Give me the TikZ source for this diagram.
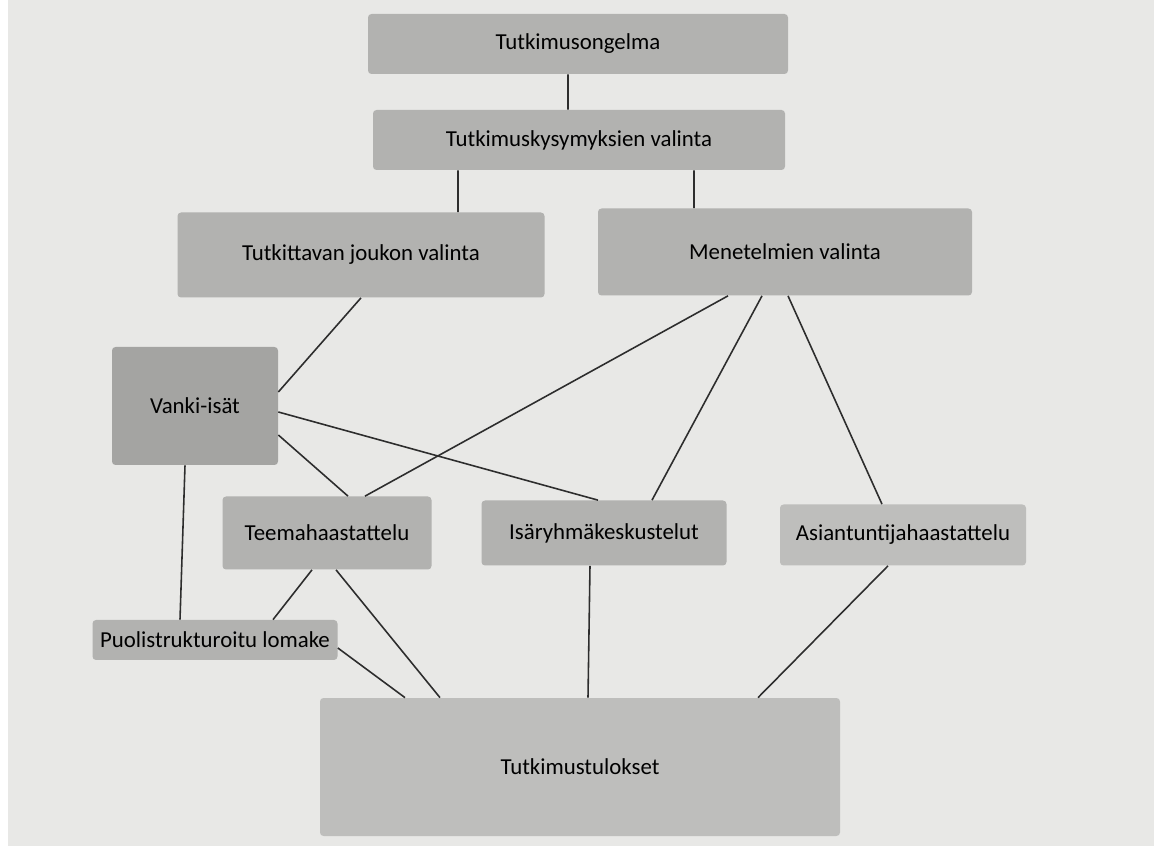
\documentclass[tikz,border=0pt]{standalone}
\usepackage{fontspec}
\setmainfont{Carlito}
\definecolor{paperi}{RGB}{232,232,230}
\definecolor{laatikko}{RGB}{178,178,176}
\definecolor{viiva}{RGB}{45,45,45}

\begin{document}
\begin{tikzpicture}[
  box/.style={draw=none,fill=laatikko,rounded corners=2pt,font=\fontsize{13}{15}\selectfont,inner sep=0pt},
  link/.style={draw=viiva,line width=0.9pt}
 ]
 \useasboundingbox (0,0) rectangle (23.08,17.02); %kuvan koko
 \fill[white] (0,0) rectangle (23.08,17.02); %reuna
 \fill[paperi] (0.16,0.1) rectangle (23.08,17.02); %paperi
 \node[box,minimum width=8.4cm,minimum height=1.2cm] (ongelma) at (11.56,16.14) {Tutkimusongelma}; %ylin
 \node[box,minimum width=8.24cm,minimum height=1.2cm] (kysymys) at (11.58,14.22) {Tutkimuskysymyksien valinta};
 \node[box,minimum width=7.34cm,minimum height=1.7cm] (joukko) at (7.22,11.92) {Tutkittavan joukon valinta};
 \node[box,minimum width=7.48cm,minimum height=1.74cm] (menetelmat) at (15.70,11.98) {Menetelmien valinta};
 \node[box,fill=laatikko!92!black,minimum width=3.32cm,minimum height=2.36cm] (vanki) at (3.90,8.90) {Vanki-isät};
 \node[box,minimum width=4.18cm,minimum height=1.46cm] (teema) at (6.54,6.36) {Teemahaastattelu};
 \node[box,minimum width=4.9cm,minimum height=1.3cm] (isa) at (12.08,6.36) {Isäryhmäkeskustelut};
 \node[box,fill=laatikko!85!white,minimum width=4.92cm,minimum height=1.22cm] (asiantuntija) at (18.06,6.32) {Asiantuntijahaastattelu};
 \node[box,minimum width=4.9cm,minimum height=0.8cm] (puoli) at (4.30,4.22) {Puolistrukturoitu lomake};
 \node[box,fill=laatikko!85!white,minimum width=10.4cm,minimum height=2.76cm] (tulokset) at (11.60,1.68) {Tutkimustulokset}; %alin
 \draw[link] ([xshift=-0.2cm]ongelma.south)--([xshift=-0.22cm]kysymys.north);
 \draw[link] ([xshift=-2.42cm]kysymys.south)--([xshift=1.94cm]joukko.north);
 \draw[link] ([xshift=2.3cm]kysymys.south)--([xshift=-1.82cm]menetelmat.north);
 \draw[link] (joukko.south)--([yshift=0.28cm]vanki.east);
 \draw[link] ([xshift=-1.14cm]menetelmat.south)--([xshift=0.76cm]teema.north);
 \draw[link] ([xshift=-0.46cm]menetelmat.south)--([xshift=0.96cm]isa.north);
 \draw[link] ([xshift=0.06cm]menetelmat.south)--([xshift=-0.42cm]asiantuntija.north);
 \draw[link] ([yshift=-0.12cm]vanki.east)--([xshift=-0.12cm]isa.north);
 \draw[link] ([yshift=-0.58cm]vanki.east)--([xshift=0.42cm]teema.north);
 \draw[link] ([xshift=-0.2cm]vanki.south)--([xshift=-0.7cm]puoli.north);
 \draw[link] ([xshift=-0.3cm]teema.south)--([xshift=1.16cm]puoli.north);
 \draw[link] ([xshift=0.18cm]teema.south)--([xshift=-2.8cm]tulokset.north);
 \draw[link] ([yshift=-0.16cm]puoli.east)--([xshift=-3.5cm]tulokset.north);
 \draw[link] ([xshift=-0.28cm]isa.south)--([xshift=0.16cm]tulokset.north);
 \draw[link] ([xshift=-0.3cm]asiantuntija.south)--([xshift=3.56cm]tulokset.north);
\end{tikzpicture}
\end{document}
